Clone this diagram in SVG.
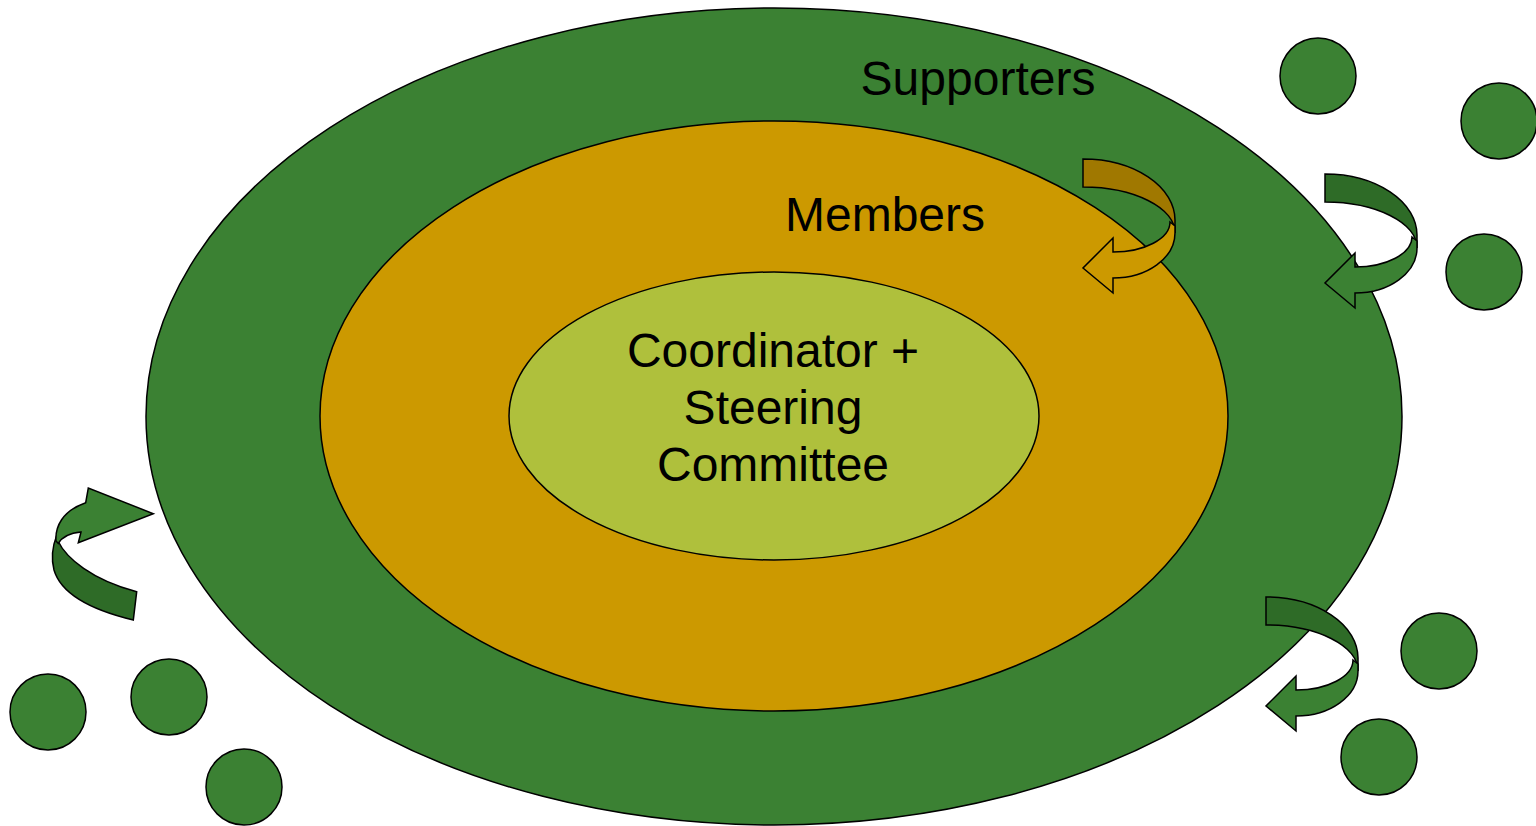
<svg xmlns="http://www.w3.org/2000/svg" xmlns:xlink="http://www.w3.org/1999/xlink" width="1536" height="826" viewBox="0 0 1536 826">
<style>
.ring{stroke:#000;stroke-width:1.5}
.sup{fill:#3B8133}
.mem{fill:#CC9900}
.core{fill:#AFC03C}
.dot{fill:#3B8133;stroke:#000;stroke-width:1.5}
.lbl{font-family:"Liberation Sans",Arial,sans-serif;font-size:48px;fill:#000;text-anchor:middle}
.ar{stroke:#000;stroke-width:1.5;stroke-linejoin:miter}
.gb{fill:#2E6B27}
.gf{fill:#3B8133}
</style>
<defs>
<path id="arBack" d="M1083,159 A92,61 0 0 1 1175,220 L1175,233 A92,46 0 0 0 1083,187 Z"/>
<path id="arFront" d="M1170,222 L1175,226 L1175,233 A62,45 0 0 1 1113,278 L1113,293 L1083,268 L1113,238 L1113,252 A57,30 0 0 0 1170,222 Z"/>
</defs>
<g id="supporters"><ellipse class="ring sup" cx="774" cy="416.5" rx="628" ry="408.5"/><text class="lbl" x="978" y="95">Supporters</text></g>
<g id="members"><ellipse class="ring mem" cx="774" cy="416" rx="454" ry="295"/><text class="lbl" x="885" y="231">Members</text></g>
<g id="core"><ellipse class="ring core" cx="774" cy="416" rx="265" ry="144"/><text class="lbl" x="773" y="367">Coordinator +</text><text class="lbl" x="773" y="424">Steering</text><text class="lbl" x="773" y="481">Committee</text></g>
<g id="connectors">
<g id="arrow1"><use xlink:href="#arBack" class="ar" fill="#A07800"/><use xlink:href="#arFront" class="ar" fill="#CC9900"/></g>
<g id="arrow2" transform="translate(242,15)"><use xlink:href="#arBack" class="ar" fill="#2E6B27"/><use xlink:href="#arFront" class="ar" fill="#3B8133"/></g>
<g id="arrow4" transform="translate(183,438)"><use xlink:href="#arBack" class="ar" fill="#2E6B27"/><use xlink:href="#arFront" class="ar" fill="#3B8133"/></g>
<g id="arrow3">
<path class="ar gb" d="M133.3,620 C100,612 62,597 54,570 C51,558 53,545 56.5,536 L58,541 C66,558 92,580 136.7,591.7 Z"/>
<path class="ar gf" d="M56,541 C55,527 62,511 85.7,502.7 L88.3,488 L153.3,513.7 L78.3,542.7 L81,532 C70,533 62,537 58.3,543.5 Z"/>
</g>
</g>
<g id="c1"><circle class="dot" cx="1318" cy="76" r="38"/></g>
<g id="c2"><circle class="dot" cx="1499" cy="121" r="38"/></g>
<g id="c3"><circle class="dot" cx="1484" cy="272" r="38"/></g>
<g id="c4"><circle class="dot" cx="1439" cy="651" r="38"/></g>
<g id="c5"><circle class="dot" cx="1379" cy="757" r="38"/></g>
<g id="c6"><circle class="dot" cx="48" cy="712" r="38"/></g>
<g id="c7"><circle class="dot" cx="169" cy="697" r="38"/></g>
<g id="c8"><circle class="dot" cx="244" cy="787" r="38"/></g>
</svg>
